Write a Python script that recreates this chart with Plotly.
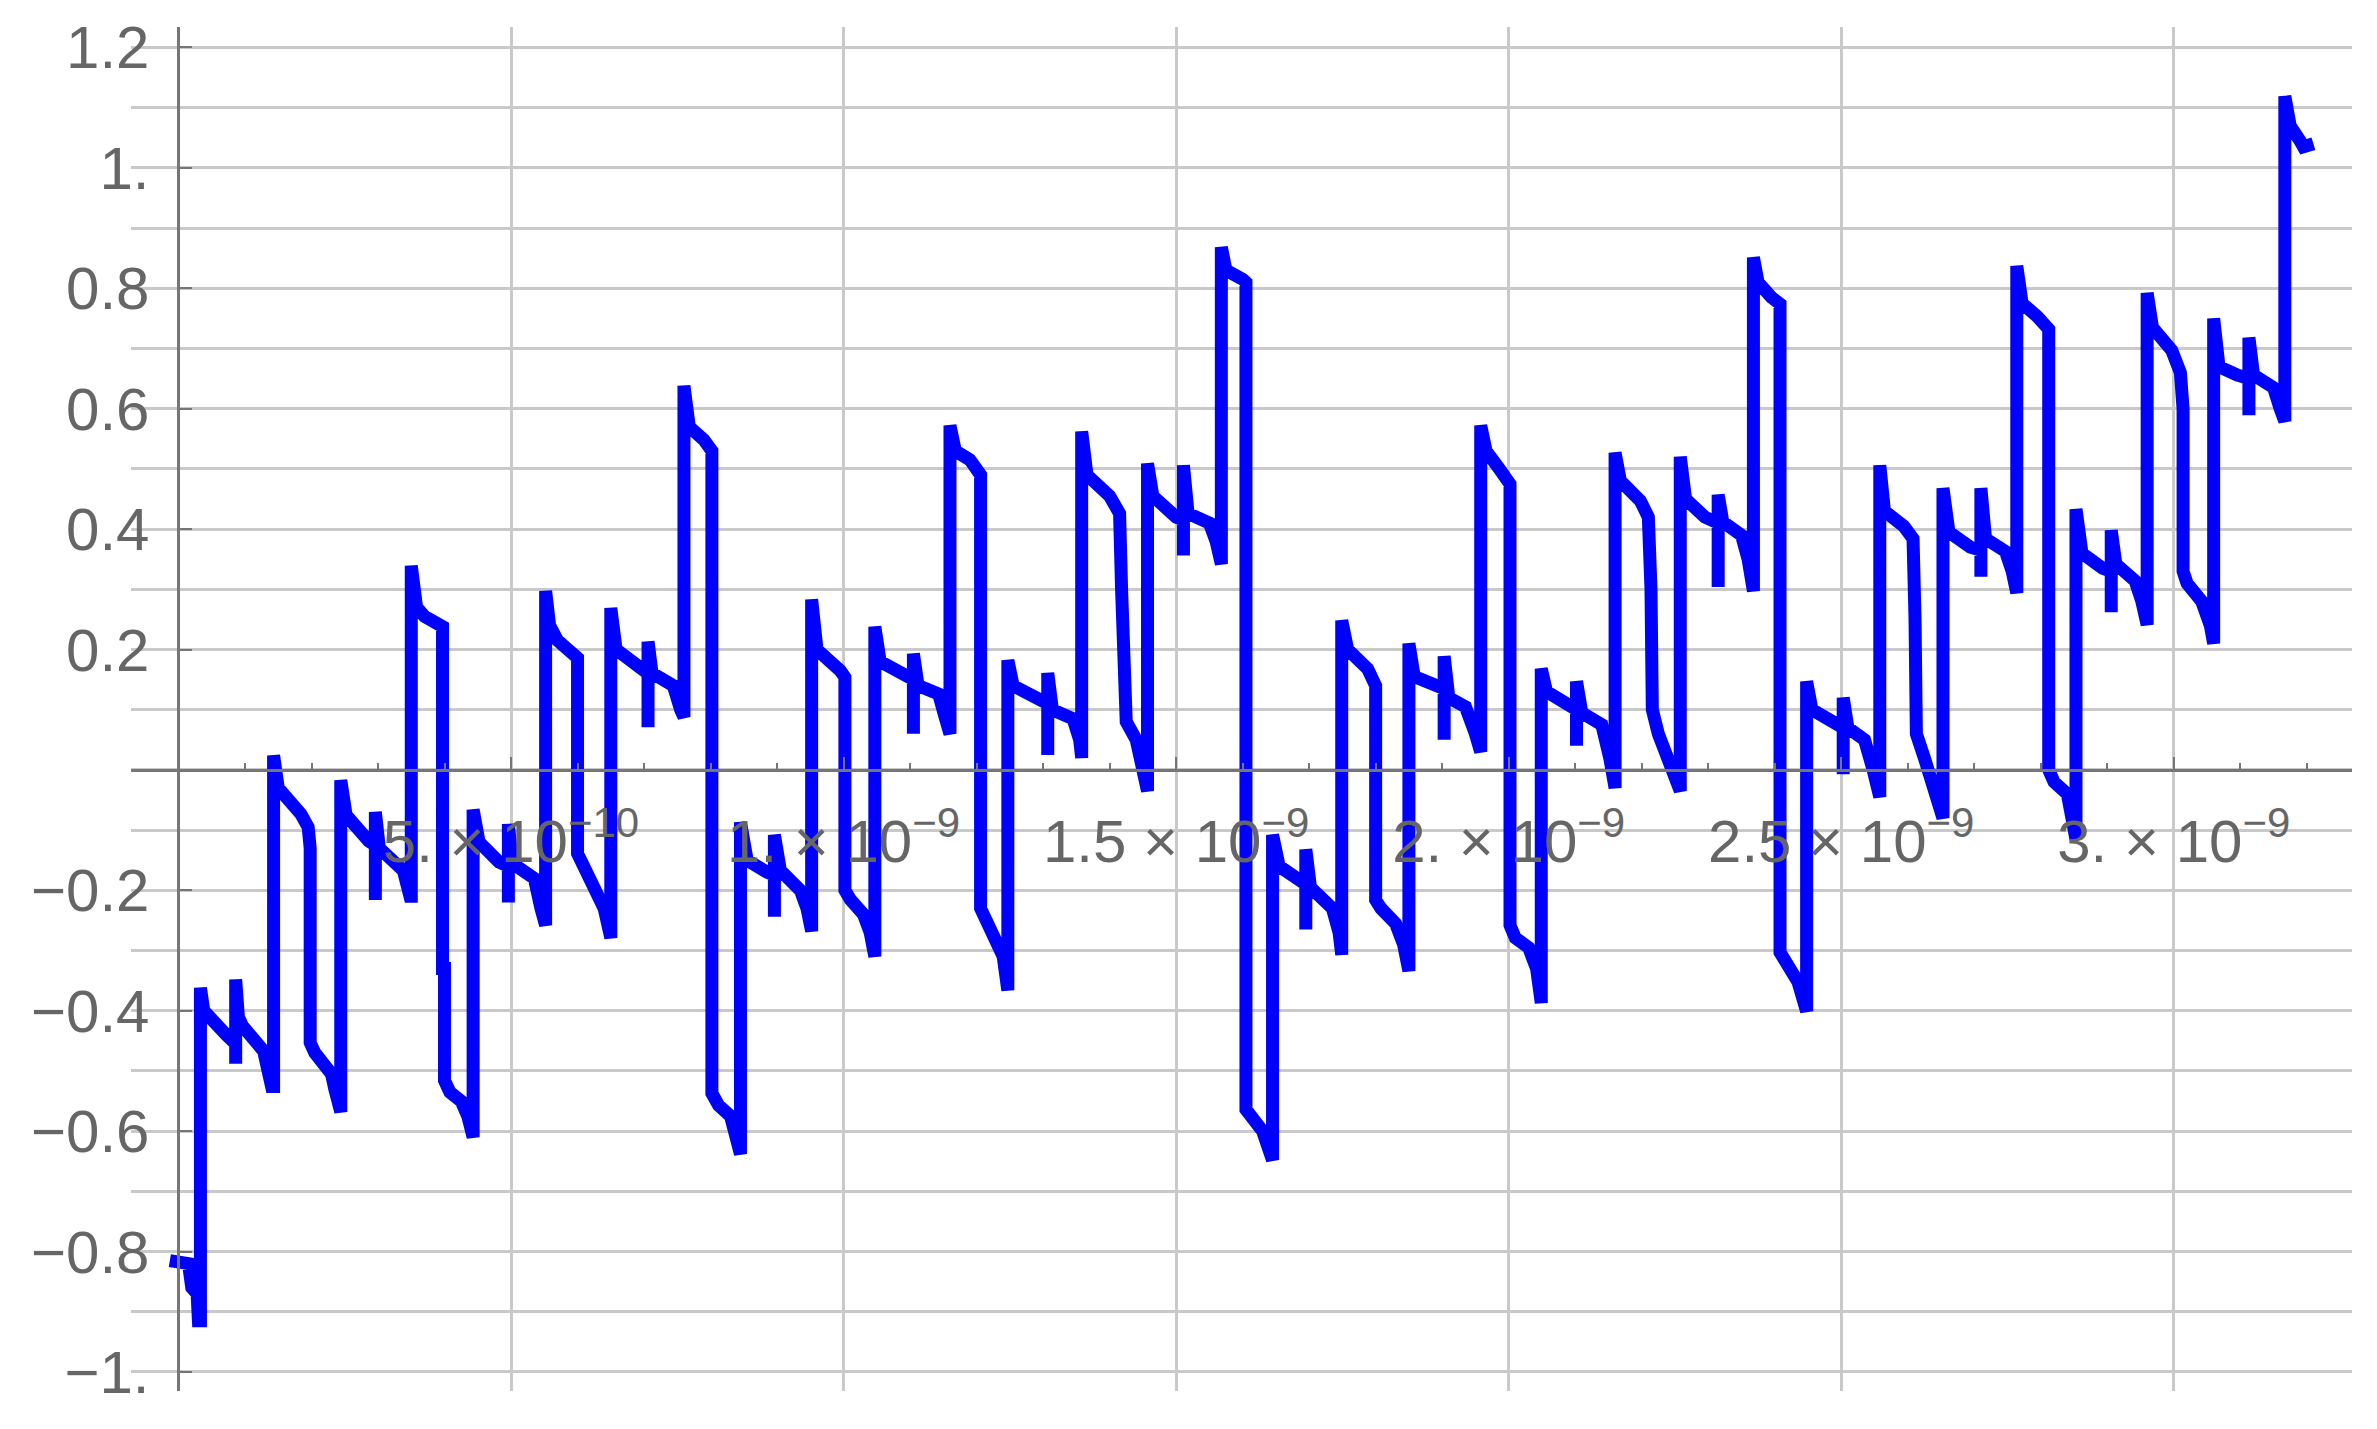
import plotly.graph_objects as go

# time in units of 1e-10 s, and signal value
t_e10 = [
    -0.13, 0.15, 0.2, 0.28, 0.3, 0.33, 0.33,
    0.38, 0.72, 0.86, 0.86, 0.86, 0.9, 0.96, 1.28, 1.4, 1.43, 1.43,
    1.5, 1.84, 1.95, 1.98, 1.98, 2.05, 2.3, 2.35, 2.44, 2.44,
    2.52, 2.86, 2.96, 2.96, 2.96, 3.02, 3.38, 3.48, 3.5, 3.5,
    3.58, 3.7, 3.97, 3.97, 4.0, 4.0, 4.08, 4.25, 4.35, 4.43, 4.43,
    4.52, 4.82, 4.96, 4.96, 4.96, 5.02, 5.35, 5.45, 5.52, 5.52,
    5.58, 5.7, 5.95, 6.0, 6.0, 6.1, 6.3, 6.4, 6.5, 6.5,
    6.58, 6.92, 7.06, 7.06, 7.06, 7.12, 7.44, 7.55, 7.6, 7.6,
    7.68, 7.9, 8.02, 8.02, 8.12, 8.3, 8.45, 8.45,
    8.55, 8.85, 8.96, 8.96, 8.96, 9.05, 9.35, 9.45, 9.52, 9.52,
    9.6, 9.95, 10.02, 10.02, 10.1, 10.3, 10.4, 10.47, 10.47,
    10.55, 10.95, 11.05, 11.05, 11.05, 11.12, 11.43, 11.52, 11.6, 11.6,
    11.68, 11.9, 12.06, 12.06, 12.15, 12.3, 12.4, 12.47, 12.47,
    12.55, 12.95, 13.07, 13.07, 13.07, 13.14, 13.45, 13.55, 13.58, 13.58,
    13.66, 14.0, 14.15, 14.18, 14.2, 14.25, 14.4, 14.5, 14.57, 14.57,
    14.65, 15.0, 15.11, 15.11, 15.11, 15.18, 15.5, 15.6, 15.68, 15.68,
    15.75, 16.0, 16.05, 16.05, 16.15, 16.3, 16.45, 16.45,
    16.55, 16.85, 16.95, 16.95, 16.95, 17.02, 17.35, 17.45, 17.49, 17.49,
    17.58, 17.88, 18.0, 18.0, 18.08, 18.3, 18.42, 18.5, 18.5,
    18.58, 18.9, 19.03, 19.03, 19.03, 19.1, 19.35, 19.5, 19.58, 19.58,
    19.66, 19.86, 20.02, 20.02, 20.1, 20.3, 20.42, 20.49, 20.49,
    20.57, 20.9, 21.02, 21.02, 21.02, 21.1, 21.4, 21.52, 21.6, 21.6,
    21.68, 21.98, 22.1, 22.14, 22.16, 22.25, 22.4, 22.58, 22.58,
    22.66, 22.95, 23.15, 23.15, 23.15, 23.22, 23.5, 23.6, 23.68, 23.68,
    23.75, 23.95, 24.08, 24.08, 24.18, 24.35, 24.48, 24.48,
    24.56, 24.9, 25.03, 25.03, 25.03, 25.1, 25.35, 25.48, 25.58, 25.58,
    25.65, 25.94, 26.08, 26.11, 26.13, 26.25, 26.4, 26.53, 26.53,
    26.62, 26.94, 27.1, 27.1, 27.1, 27.17, 27.47, 27.57, 27.64, 27.64,
    27.72, 27.95, 28.12, 28.12, 28.2, 28.4, 28.48, 28.53, 28.53,
    28.62, 28.93, 29.06, 29.06, 29.06, 29.13, 29.42, 29.52, 29.6, 29.6,
    29.68, 29.97, 30.1, 30.14, 30.14, 30.2, 30.42, 30.55, 30.6, 30.6,
    30.68, 30.95, 31.13, 31.13, 31.13, 31.2, 31.5, 31.6, 31.67, 31.67,
    31.75, 31.9, 31.95, 32.1,
]
signal = [
    -0.815, -0.82, -0.86, -0.87, -0.915, -0.915, -0.362,
    -0.40, -0.44, -0.455, -0.488, -0.348, -0.41, -0.425, -0.467, -0.526, -0.526, 0.024,
    -0.03, -0.073, -0.095, -0.13, -0.453, -0.47, -0.505, -0.53, -0.568, -0.017,
    -0.075, -0.118, -0.125, -0.216, -0.07, -0.13, -0.167, -0.21, -0.21, 0.339,
    0.27, 0.255, 0.238, -0.33, -0.33, -0.516, -0.535, -0.55, -0.575, -0.61, -0.066,
    -0.12, -0.153, -0.16, -0.22, -0.09, -0.155, -0.18, -0.23, -0.258, 0.297,
    0.24, 0.215, 0.19, 0.186, -0.139, -0.16, -0.2, -0.23, -0.279, 0.269,
    0.2, 0.168, 0.16, 0.071, 0.213, 0.161, 0.14, 0.1, 0.088, 0.638,
    0.57, 0.548, 0.53, -0.537, -0.557, -0.575, -0.638, -0.087,
    -0.15, -0.17, -0.175, -0.244, -0.108, -0.167, -0.2, -0.23, -0.268, 0.283,
    0.2, 0.165, 0.154, -0.2, -0.215, -0.24, -0.27, -0.31, 0.238,
    0.18, 0.155, 0.15, 0.06, 0.193, 0.14, 0.126, 0.09, 0.06, 0.572,
    0.53, 0.515, 0.49, -0.23, -0.25, -0.28, -0.31, -0.366, 0.182,
    0.14, 0.12, 0.11, 0.025, 0.161, 0.1, 0.085, 0.05, 0.02, 0.562,
    0.49, 0.455, 0.426, 0.3, 0.12, 0.08, 0.05, 0.0, -0.035, 0.509,
    0.455, 0.42, 0.415, 0.356, 0.506, 0.426, 0.41, 0.38, 0.342, 0.868,
    0.83, 0.815, 0.81, -0.564, -0.578, -0.6, -0.648, -0.108,
    -0.16, -0.185, -0.19, -0.265, -0.132, -0.195, -0.23, -0.27, -0.307, 0.248,
    0.2, 0.168, 0.14, -0.216, -0.23, -0.255, -0.29, -0.334, 0.21,
    0.155, 0.14, 0.135, 0.05, 0.189, 0.12, 0.105, 0.06, 0.03, 0.572,
    0.53, 0.5, 0.475, -0.258, -0.279, -0.295, -0.33, -0.387, 0.168,
    0.13, 0.105, 0.1, 0.04, 0.147, 0.095, 0.075, 0.02, -0.03, 0.527,
    0.48, 0.447, 0.42, 0.3, 0.1, 0.06, 0.02, -0.035, 0.52,
    0.45, 0.42, 0.41, 0.304, 0.457, 0.412, 0.39, 0.35, 0.297, 0.851,
    0.81, 0.785, 0.774, -0.303, -0.32, -0.352, -0.401, 0.147,
    0.1, 0.078, 0.07, -0.007, 0.12, 0.07, 0.05, 0.0, -0.045, 0.506,
    0.43, 0.405, 0.384, 0.25, 0.06, 0.02, -0.03, -0.08, 0.468,
    0.395, 0.37, 0.365, 0.321, 0.468, 0.384, 0.363, 0.33, 0.294, 0.837,
    0.775, 0.753, 0.732, 0.0, -0.02, -0.04, -0.08, -0.115, 0.433,
    0.36, 0.335, 0.33, 0.262, 0.398, 0.342, 0.314, 0.28, 0.241, 0.792,
    0.735, 0.697, 0.66, 0.6, 0.33, 0.31, 0.28, 0.24, 0.21, 0.75,
    0.67, 0.656, 0.65, 0.589, 0.718, 0.656, 0.635, 0.6, 0.579, 1.119,
    1.07, 1.045, 1.035, 1.04,
]
t = [x * 1e-10 for x in t_e10]

x_tick_vals = [5e-10, 1e-9, 1.5e-9, 2e-9, 2.5e-9, 3e-9]
x_tick_text = [
    "5. × 10<sup>−10</sup>", "1. × 10<sup>−9</sup>", "1.5 × 10<sup>−9</sup>",
    "2. × 10<sup>−9</sup>", "2.5 × 10<sup>−9</sup>", "3. × 10<sup>−9</sup>",
]
y_tick_vals = [-1.0, -0.8, -0.6, -0.4, -0.2, 0.2, 0.4, 0.6, 0.8, 1.0, 1.2]
y_tick_text = ["−1.", "−0.8", "−0.6", "−0.4", "−0.2", "0.2", "0.4", "0.6", "0.8", "1.", "1.2"]

x_range = [-0.714e-10, 32.68e-10]
y_range = [-1.0316, 1.234]
yaxis_pos = (0 - x_range[0]) / (x_range[1] - x_range[0])
xaxis_pos = (0 - y_range[0]) / (y_range[1] - y_range[0])

AXIS = "#767676"
GRID = "#c9c9c9"

fig = go.Figure(go.Scatter(
    x=t, y=signal, mode="lines",
    line=dict(color="#0000FF", width=13),
    hoverinfo="skip",
))

fig.update_layout(
    width=2377, height=1429,
    margin=dict(l=131, r=25, t=27, b=38),
    plot_bgcolor="white", paper_bgcolor="white",
    showlegend=False,
    font=dict(family="Liberation Sans, Arial, sans-serif", size=60, color="#666666"),
)
fig.update_xaxes(
    range=x_range, anchor="free", position=xaxis_pos, automargin=False,
    showline=True, linecolor=AXIS, linewidth=3, zeroline=False,
    showgrid=True, gridcolor=GRID, gridwidth=3,
    tickmode="array", tickvals=x_tick_vals, ticktext=x_tick_text,
    ticks="inside", ticklen=12, tickwidth=2, tickcolor=AXIS,
    ticklabelstandoff=18,
    minor=dict(tickmode="linear", tick0=0, dtick=1e-10, ticks="inside",
               ticklen=6, tickwidth=2, tickcolor=AXIS, showgrid=False),
)
fig.update_yaxes(
    range=y_range, anchor="free", position=yaxis_pos, automargin=False,
    showline=True, linecolor=AXIS, linewidth=3, zeroline=False,
    showgrid=True, gridcolor=GRID, gridwidth=3,
    tickmode="array", tickvals=y_tick_vals, ticktext=y_tick_text,
    ticks="inside", ticklen=12, tickwidth=2, tickcolor=AXIS,
    ticklabelstandoff=16,
    minor=dict(tickmode="linear", tick0=0, dtick=0.1, ticks="",
               showgrid=True, gridcolor=GRID, gridwidth=3),
)

fig.write_html(
    "out.html",
    config={"displayModeBar": False},
    post_script="document.body.style.margin='0';document.body.style.overflow='hidden';",
)
